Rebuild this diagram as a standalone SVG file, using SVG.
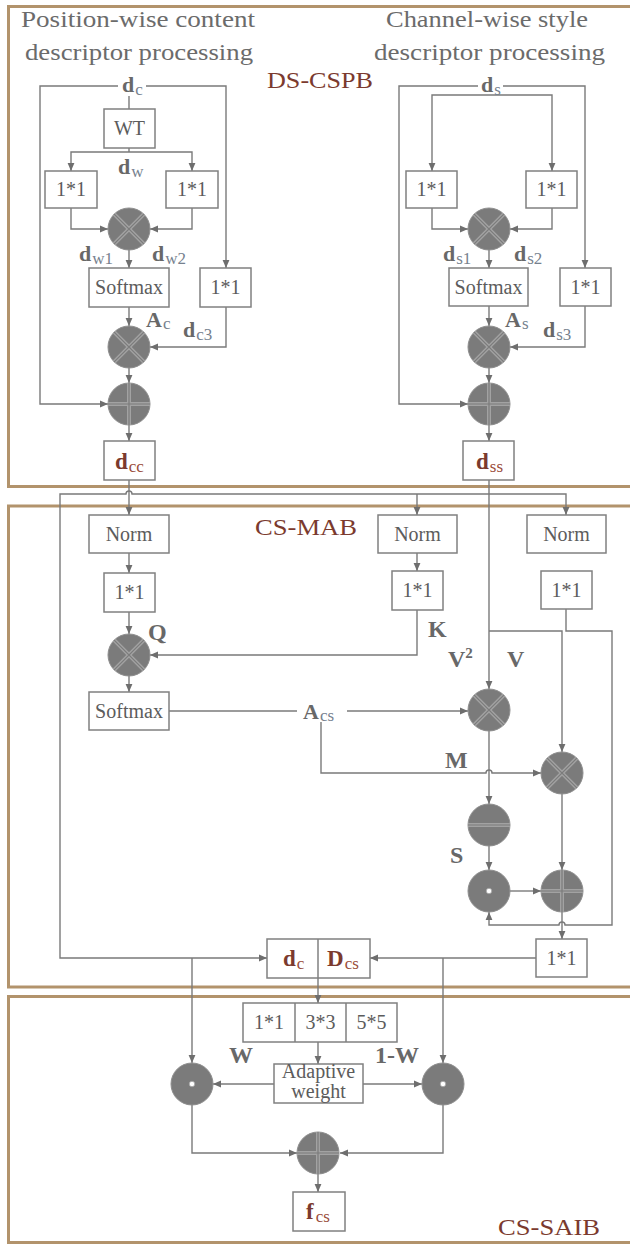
<svg xmlns="http://www.w3.org/2000/svg" xmlns:xlink="http://www.w3.org/1999/xlink" width="630" height="1244" viewBox="0 0 630 1244">
<defs>
<style>
  .frame { fill: none; stroke: #b2936c; stroke-width: 3; }
  .box { fill: #ffffff; stroke: #808080; stroke-width: 1.5; }
  .wire { fill: none; stroke: #7a7a7a; stroke-width: 1.4; }
  .arr { marker-end: url(#ah); }
  .op { fill: #7b7b7b; stroke: #8e8e8e; stroke-width: 1; }
  .opl { fill: none; stroke: #a2a2a2; stroke-width: 4; }
  .opd { fill: none; stroke: #7b7b7b; stroke-width: 1.2; }
  .head { font-family: "Liberation Serif", "Times New Roman", serif; font-size: 24px; fill: #6b6b6b; }
  .sec { font-family: "Liberation Serif", "Times New Roman", serif; font-size: 23px; fill: #7b3a2e; }
  .bt { font-family: "Liberation Serif", "Times New Roman", serif; font-size: 20px; fill: #5c5c5c; text-anchor: middle; }
  .lb { font-family: "Liberation Serif", "Times New Roman", serif; font-size: 22px; font-weight: bold; fill: #686868; }
  .lbb { font-family: "Liberation Serif", "Times New Roman", serif; font-size: 24px; font-weight: bold; fill: #686868; }
  .sub { font-size: 17px; font-weight: normal; fill: #76818e; }
  .rd { font-family: "Liberation Serif", "Times New Roman", serif; font-size: 23px; font-weight: bold; fill: #7b3a2e; }
  .rsub { font-size: 17px; font-weight: normal; fill: #9a4c3a; }
</style>
<marker id="ah" viewBox="0 0 8 8" refX="8" refY="4" markerWidth="8" markerHeight="8" markerUnits="userSpaceOnUse" orient="auto">
  <path d="M0,0.6 L8,4 L0,7.4 z" fill="#6e6e6e"/>
</marker>
<!-- operator glyphs, centred on the origin -->
<g id="sym-mul">
  <circle r="21" class="op"/>
  <path class="opl" d="M-14.8,-14.8 L14.8,14.8 M14.8,-14.8 L-14.8,14.8"/>
  <path class="opd" d="M-14.8,-14.8 L14.8,14.8 M14.8,-14.8 L-14.8,14.8"/>
</g>
<g id="sym-add">
  <circle r="21" class="op"/>
  <path class="opl" d="M-21,0 H21 M0,-21 V21"/>
  <path class="opd" d="M-21,0 H21 M0,-21 V21"/>
</g>
<g id="sym-sub">
  <circle r="21" class="op"/>
  <path class="opl" d="M-21,0 H21"/>
  <path class="opd" d="M-21,0 H21"/>
</g>
<g id="sym-dot">
  <circle r="21" class="op"/>
  <circle r="2.8" fill="#ffffff" stroke="#9a9a9a" stroke-width="0.8"/>
</g>
</defs>

<rect width="630" height="1244" fill="#ffffff"/>

<!-- block frames -->
<g id="frames">
  <rect class="frame" x="8.5" y="6.5" width="640" height="480"/>
  <rect class="frame" x="8.5" y="506" width="640" height="481"/>
  <rect class="frame" x="8.5" y="996.5" width="640" height="246"/>
</g>

<!-- headings and block names -->
<g id="titles">
  <text class="head" x="21" y="27" textLength="234" lengthAdjust="spacingAndGlyphs">Position-wise content</text>
  <text class="head" x="25" y="60" textLength="228" lengthAdjust="spacingAndGlyphs">descriptor processing</text>
  <text class="head" x="386" y="27" textLength="202" lengthAdjust="spacingAndGlyphs">Channel-wise style</text>
  <text class="head" x="374" y="60" textLength="231" lengthAdjust="spacingAndGlyphs">descriptor processing</text>
  <text class="sec" x="267" y="88" textLength="106" lengthAdjust="spacingAndGlyphs">DS-CSPB</text>
  <text class="sec" x="255" y="535" textLength="102" lengthAdjust="spacingAndGlyphs">CS-MAB</text>
  <text class="sec" x="498" y="1235" textLength="102" lengthAdjust="spacingAndGlyphs">CS-SAIB</text>
</g>

<!-- connectors -->
<g id="connectors">
  <!-- DS-CSPB, content branch -->
  <path class="wire" d="M129,96 V109"/>
  <path class="wire arr" d="M118,86 H40 V404 H108"/>
  <path class="wire arr" d="M146,86 H226 V268"/>
  <path class="wire" d="M129,148 V152"/>
  <path class="wire arr" d="M129,152 H71 V171"/>
  <path class="wire arr" d="M129,152 H192 V171"/>
  <path class="wire arr" d="M71,208 V229 H108"/>
  <path class="wire arr" d="M192,208 V229 H150"/>
  <path class="wire arr" d="M129,250 V268"/>
  <path class="wire arr" d="M129,307 V326"/>
  <path class="wire arr" d="M226,307 V347 H150"/>
  <path class="wire arr" d="M129,368 V383"/>
  <path class="wire arr" d="M129,425 V441"/>
  <!-- DS-CSPB, style branch -->
  <path class="wire arr" d="M478,86 H399 V404 H468"/>
  <path class="wire arr" d="M503,86 H585 V268"/>
  <path class="wire arr" d="M489,95 H432 V171"/>
  <path class="wire arr" d="M489,95 H552 V171"/>
  <path class="wire arr" d="M432,208 V229 H468"/>
  <path class="wire arr" d="M552,208 V229 H510"/>
  <path class="wire arr" d="M489,250 V268"/>
  <path class="wire arr" d="M489,306 V326"/>
  <path class="wire arr" d="M585,306 V347 H510"/>
  <path class="wire arr" d="M489,368 V383"/>
  <path class="wire arr" d="M489,425 V441"/>
  <!-- into CS-MAB -->
  <path class="wire arr" d="M129,480 V515"/>
  <path class="wire arr" d="M489,480 V689"/>
  <path class="wire arr" d="M489,494 H132 A3,3 0 0 0 126,494 H60 V958 H267"/>
  <path class="wire arr" d="M489,494 H566 V515"/>
  <path class="wire arr" d="M417,494 V515"/>
  <path class="wire arr" d="M129,553 V573"/>
  <path class="wire arr" d="M129,612 V634"/>
  <path class="wire arr" d="M417,553 V571"/>
  <path class="wire arr" d="M417,610 V655 H150"/>
  <path class="wire arr" d="M129,676 V692"/>
  <path class="wire" d="M169,711 H297"/>
  <path class="wire arr" d="M347,711 H468"/>
  <path class="wire arr" d="M321,722 V773 H486 A3,3 0 0 1 492,773 H541"/>
  <path class="wire arr" d="M489,631 H562 V752"/>
  <path class="wire arr" d="M566,609 V631 H612 V925 H565 A3,3 0 0 0 559,925 H489 V912"/>
  <path class="wire arr" d="M489,731 V804"/>
  <path class="wire arr" d="M489,846 V870"/>
  <path class="wire arr" d="M510,891 H541"/>
  <path class="wire arr" d="M562,794 V870"/>
  <path class="wire arr" d="M562,912 V939"/>
  <path class="wire arr" d="M536,958 H370"/>
  <path class="wire arr" d="M443,958 V1063"/>
  <path class="wire arr" d="M192,958 V1063"/>
  <path class="wire arr" d="M318,978 V1003"/>
  <!-- CS-SAIB -->
  <path class="wire arr" d="M318,1042 V1064"/>
  <path class="wire arr" d="M274,1084 H213"/>
  <path class="wire arr" d="M363,1084 H422"/>
  <path class="wire arr" d="M192,1105 V1153 H297"/>
  <path class="wire arr" d="M443,1105 V1153 H340"/>
  <path class="wire arr" d="M318,1174 V1192"/>
</g>

<!-- DS-CSPB nodes -->
<g id="wt"><rect class="box" x="104" y="109" width="51" height="39"/><text class="bt" x="129.5" y="135">WT</text></g>
<g id="c-conv-a"><rect class="box" x="45" y="171" width="52" height="37"/><text class="bt" x="71" y="196">1*1</text></g>
<g id="c-conv-b"><rect class="box" x="166" y="171" width="52" height="37"/><text class="bt" x="192" y="196">1*1</text></g>
<g id="c-mul1"><use xlink:href="#sym-mul" transform="translate(129,229)"/></g>
<g id="c-softmax"><rect class="box" x="89" y="268" width="80" height="39"/><text class="bt" x="129" y="294">Softmax</text></g>
<g id="c-conv-c"><rect class="box" x="200" y="268" width="51" height="39"/><text class="bt" x="225.5" y="294">1*1</text></g>
<g id="c-mul2"><use xlink:href="#sym-mul" transform="translate(129,347)"/></g>
<g id="c-add"><use xlink:href="#sym-add" transform="translate(129,404)"/></g>
<g id="dcc"><rect class="box" x="104" y="441" width="51" height="39"/><text class="rd" x="115" y="469">d<tspan class="rsub" dx="1" dy="3">cc</tspan></text></g>

<g id="s-conv-a"><rect class="box" x="406" y="171" width="51" height="37"/><text class="bt" x="431.5" y="196">1*1</text></g>
<g id="s-conv-b"><rect class="box" x="526" y="171" width="51" height="37"/><text class="bt" x="551.5" y="196">1*1</text></g>
<g id="s-mul1"><use xlink:href="#sym-mul" transform="translate(489,229)"/></g>
<g id="s-softmax"><rect class="box" x="449" y="268" width="79" height="38"/><text class="bt" x="488.5" y="294">Softmax</text></g>
<g id="s-conv-c"><rect class="box" x="560" y="268" width="51" height="38"/><text class="bt" x="585.5" y="294">1*1</text></g>
<g id="s-mul2"><use xlink:href="#sym-mul" transform="translate(489,347)"/></g>
<g id="s-add"><use xlink:href="#sym-add" transform="translate(489,404)"/></g>
<g id="dss"><rect class="box" x="463" y="441" width="51" height="39"/><text class="rd" x="476" y="469">d<tspan class="rsub" dx="1" dy="3">ss</tspan></text></g>

<!-- CS-MAB nodes -->
<g id="norm-q"><rect class="box" x="89" y="515" width="80" height="38"/><text class="bt" x="129" y="541">Norm</text></g>
<g id="conv-q"><rect class="box" x="104" y="573" width="51" height="39"/><text class="bt" x="129.5" y="599">1*1</text></g>
<g id="norm-k"><rect class="box" x="378" y="515" width="79" height="38"/><text class="bt" x="417.5" y="541">Norm</text></g>
<g id="conv-k"><rect class="box" x="392" y="571" width="51" height="39"/><text class="bt" x="417.5" y="597">1*1</text></g>
<g id="norm-v"><rect class="box" x="527" y="515" width="79" height="38"/><text class="bt" x="566.5" y="541">Norm</text></g>
<g id="conv-v"><rect class="box" x="541" y="571" width="51" height="38"/><text class="bt" x="566.5" y="597">1*1</text></g>
<g id="qk-mul"><use xlink:href="#sym-mul" transform="translate(129,655)"/></g>
<g id="m-softmax"><rect class="box" x="89" y="692" width="80" height="38"/><text class="bt" x="129" y="718">Softmax</text></g>
<g id="v2-mul"><use xlink:href="#sym-mul" transform="translate(489,710)"/></g>
<g id="v-mul"><use xlink:href="#sym-mul" transform="translate(562,773)"/></g>
<g id="m-sub"><use xlink:href="#sym-sub" transform="translate(489,825)"/></g>
<g id="s-dot"><use xlink:href="#sym-dot" transform="translate(489,891)"/></g>
<g id="m-add"><use xlink:href="#sym-add" transform="translate(562,891)"/></g>
<g id="conv-out"><rect class="box" x="536" y="939" width="51" height="38"/><text class="bt" x="561.5" y="965">1*1</text></g>
<g id="concat">
  <rect class="box" x="267" y="939" width="103" height="39"/>
  <path d="M318,939 V978" stroke="#808080" stroke-width="1.5"/>
  <text class="rd" x="283" y="966">d<tspan class="rsub" dx="1" dy="3">c</tspan></text>
  <text class="rd" x="327" y="966">D<tspan class="rsub" dx="1" dy="3">cs</tspan></text>
</g>

<!-- CS-SAIB nodes -->
<g id="kernels">
  <rect class="box" x="243" y="1003" width="154" height="39"/>
  <path d="M295,1003 V1042 M346,1003 V1042" stroke="#808080" stroke-width="1.5"/>
  <text class="bt" x="269" y="1029">1*1</text>
  <text class="bt" x="320.5" y="1029">3*3</text>
  <text class="bt" x="371.5" y="1029">5*5</text>
</g>
<g id="adaptive">
  <rect class="box" x="274" y="1064" width="89" height="39"/>
  <text class="bt" x="318.5" y="1078">Adaptive</text>
  <text class="bt" x="318.5" y="1098">weight</text>
</g>
<g id="w-dot"><use xlink:href="#sym-dot" transform="translate(192,1084)"/></g>
<g id="w1-dot"><use xlink:href="#sym-dot" transform="translate(443,1084)"/></g>
<g id="f-add"><use xlink:href="#sym-add" transform="translate(318,1153)"/></g>
<g id="fcs"><rect class="box" x="293" y="1192" width="52" height="39"/><text class="rd" x="306" y="1219">f<tspan class="rsub" dx="2" dy="3">cs</tspan></text></g>

<!-- edge labels -->
<g id="labels">
  <text class="lb" x="122" y="92">d<tspan class="sub" dx="1" dy="3">c</tspan></text>
  <text class="lb" x="481" y="92">d<tspan class="sub" dx="1" dy="3">s</tspan></text>
  <text class="lb" x="118" y="174">d<tspan class="sub" dx="1" dy="3">w</tspan></text>
  <text class="lb" x="79" y="261">d<tspan class="sub" dx="1" dy="3">w1</tspan></text>
  <text class="lb" x="152" y="261">d<tspan class="sub" dx="1" dy="3">w2</tspan></text>
  <text class="lb" x="146" y="327">A<tspan class="sub" dx="1" dy="2">c</tspan></text>
  <text class="lb" x="183" y="337">d<tspan class="sub" dx="1" dy="3">c3</tspan></text>
  <text class="lb" x="443" y="261">d<tspan class="sub" dx="1" dy="3">s1</tspan></text>
  <text class="lb" x="514" y="261">d<tspan class="sub" dx="1" dy="3">s2</tspan></text>
  <text class="lb" x="505" y="327">A<tspan class="sub" dx="1" dy="2">s</tspan></text>
  <text class="lb" x="543" y="337">d<tspan class="sub" dx="1" dy="3">s3</tspan></text>
  <text class="lbb" x="148" y="640">Q</text>
  <text class="lbb" x="428" y="637">K</text>
  <text class="lbb" x="448" y="667">V<tspan font-size="15" dy="-9">2</tspan></text>
  <text class="lbb" x="507" y="667">V</text>
  <text class="lb" x="303" y="719">A<tspan class="sub" dx="1" dy="2">cs</tspan></text>
  <text class="lbb" x="445" y="768">M</text>
  <text class="lbb" x="450" y="863">S</text>
  <text class="lbb" x="229" y="1063">W</text>
  <text class="lbb" x="375" y="1063">1-W</text>
</g>
</svg>
